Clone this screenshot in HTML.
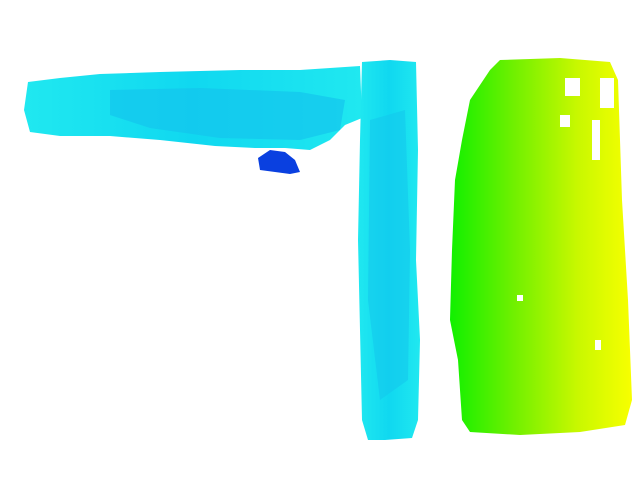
<!DOCTYPE html>
<html>
<head>
<meta charset="utf-8">
<style>
html,body{margin:0;padding:0;background:#fff;}
svg{display:block;}
</style>
</head>
<body>
<svg width="640" height="480" viewBox="0 0 640 480">
  <defs>
    <linearGradient id="gy" x1="0" x2="1" y1="0" y2="0">
      <stop offset="0" stop-color="#10f000"/>
      <stop offset="0.35" stop-color="#70f000"/>
      <stop offset="0.7" stop-color="#c8f800"/>
      <stop offset="1" stop-color="#f8ff00"/>
    </linearGradient>
    <linearGradient id="cy" x1="0" x2="1" y1="0" y2="0">
      <stop offset="0" stop-color="#20e8f0"/>
      <stop offset="0.5" stop-color="#10d8f0"/>
      <stop offset="1" stop-color="#20e8f0"/>
    </linearGradient>
  </defs>
  <path fill="url(#cy)"
    d="M28,82 L60,78 L100,74 L160,72 L240,70 L300,70 L360,66 L362,118 L345,125 L330,140 L310,150 L285,148 L255,148 L215,146 L160,140 L110,136 L60,136 L30,132 L24,110 Z"/>
  <path fill="#14c4ec" opacity="0.7"
    d="M110,90 L200,88 L300,92 L345,100 L340,130 L300,140 L220,138 L150,128 L110,115 Z"/>
  <path fill="#0a40e0"
    d="M258,158 L270,150 L285,152 L295,160 L300,172 L290,174 L275,172 L260,170 Z"/>
  <path fill="url(#cy)"
    d="M362,62 L390,60 L416,62 L418,150 L416,260 L420,340 L418,420 L412,438 L385,440 L368,440 L362,420 L360,330 L358,240 L360,140 Z"/>
  <path fill="#14c8ec" opacity="0.6"
    d="M370,120 L405,110 L410,250 L408,380 L380,400 L368,300 Z"/>
  <path fill="url(#gy)"
    d="M500,60 L560,58 L610,62 L618,80 L622,200 L628,300 L632,400 L625,425 L580,432 L520,435 L470,432 L462,420 L458,360 L450,320 L452,250 L455,180 L462,140 L470,100 L490,70 Z"/>
  <g fill="#fff">
    <rect x="565" y="78" width="15" height="18"/>
    <rect x="600" y="78" width="14" height="30"/>
    <rect x="560" y="115" width="10" height="12"/>
    <rect x="592" y="120" width="8" height="40"/>
    <rect x="517" y="295" width="6" height="6"/>
    <rect x="595" y="340" width="6" height="10"/>
  </g>
</svg>
</body>
</html>
